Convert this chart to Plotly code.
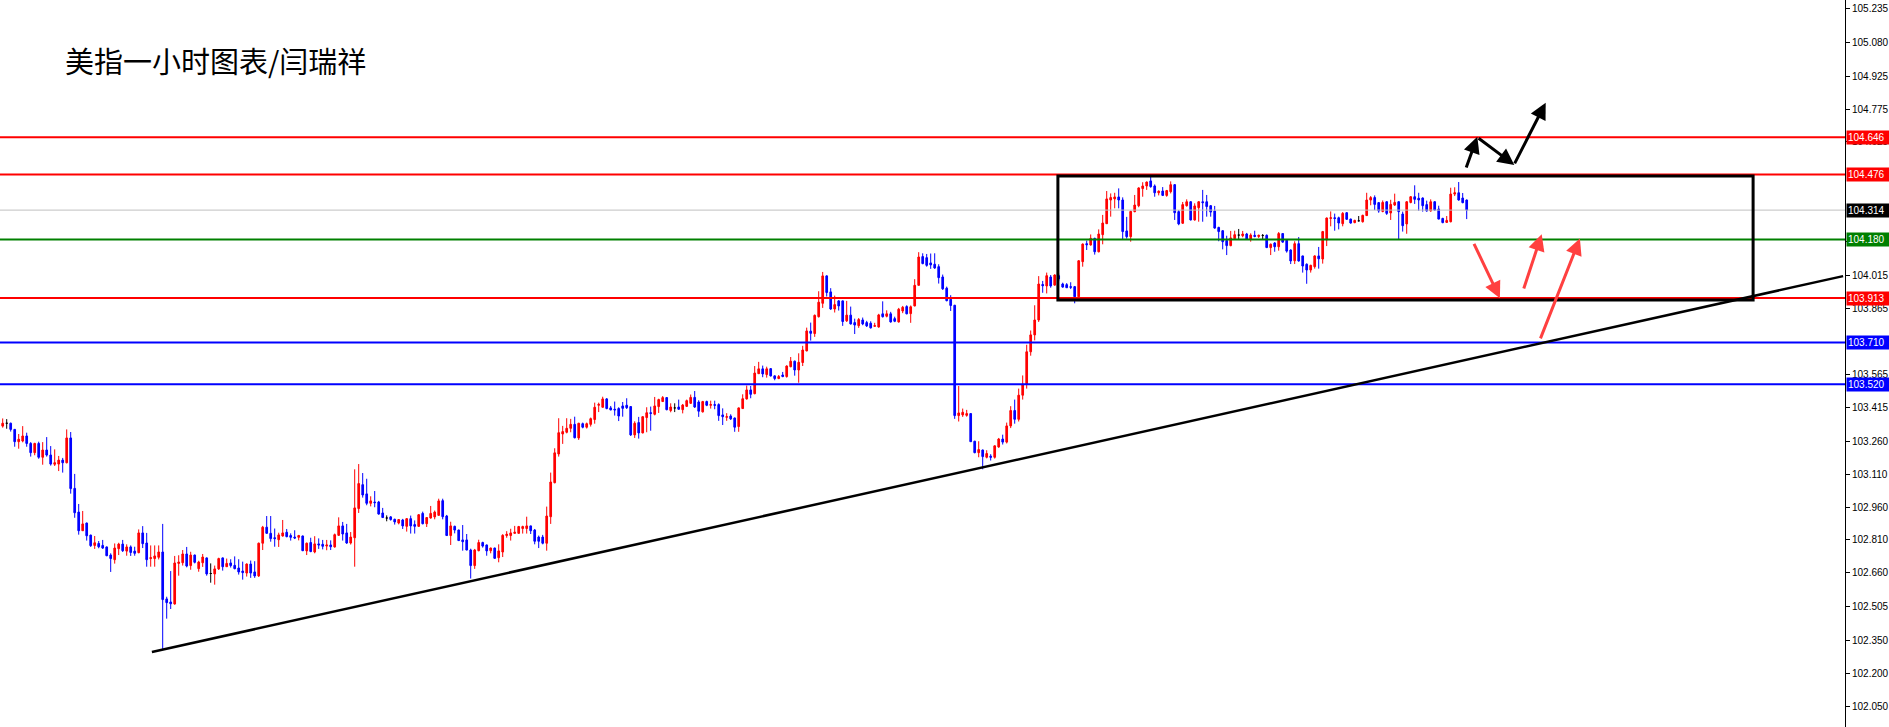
import plotly.graph_objects as go

# ---- data (USD index, 1-hour candles) ----
opens = [
103.329,103.342,103.342,103.314,103.258,103.261,103.284,103.250,103.208,103.250,
103.187,103.220,103.197,103.155,103.156,103.174,103.162,103.275,103.045,102.937,
102.852,102.887,102.832,102.785,102.794,102.785,102.778,102.741,102.720,102.770,
102.791,102.759,102.778,102.759,102.752,102.842,102.796,102.725,102.725,102.731,
102.755,102.541,102.527,102.518,102.703,102.706,102.746,102.693,102.741,102.679,
102.706,102.728,102.657,102.655,102.678,102.728,102.688,102.705,102.694,102.682,
102.668,102.659,102.700,102.664,102.646,102.795,102.868,102.840,102.820,102.811,
102.828,102.845,102.830,102.823,102.822,102.828,102.760,102.798,102.755,102.792,
102.790,102.782,102.787,102.778,102.831,102.874,102.842,102.796,102.820,102.953,
103.062,103.020,102.977,102.983,102.983,102.933,102.910,102.915,102.904,102.887,
102.901,102.872,102.907,102.880,102.872,102.931,102.884,102.910,102.915,102.922,
102.989,102.919,102.830,102.872,102.855,102.810,102.810,102.764,102.693,102.761,
102.798,102.787,102.761,102.773,102.729,102.755,102.830,102.830,102.840,102.840,
102.862,102.862,102.874,102.855,102.823,102.823,102.795,102.916,103.071,103.202,
103.293,103.301,103.319,103.337,103.275,103.340,103.324,103.337,103.359,103.424,
103.415,103.453,103.412,103.406,103.409,103.421,103.424,103.418,103.289,103.345,
103.298,103.368,103.390,103.383,103.418,103.441,103.459,103.400,103.412,103.416,
103.404,103.419,103.433,103.460,103.439,103.394,103.441,103.424,103.427,103.427,
103.380,103.369,103.375,103.366,103.327,103.409,103.453,103.494,103.477,103.568,
103.590,103.564,103.591,103.558,103.546,103.562,103.555,103.600,103.625,103.585,
103.619,103.672,103.762,103.751,103.828,103.889,104.014,103.941,103.863,103.900,
103.900,103.809,103.835,103.801,103.787,103.813,103.801,103.798,103.784,103.781,
103.841,103.830,103.841,103.819,103.804,103.854,103.874,103.842,103.877,103.971,
104.102,104.097,104.073,104.067,104.056,104.009,103.958,103.907,103.880,103.377,
103.380,103.378,103.386,103.260,103.208,103.220,103.187,103.192,103.187,103.234,
103.270,103.256,103.330,103.400,103.360,103.470,103.520,103.668,103.745,103.813,
103.975,103.968,104.009,103.972,104.015,103.977,103.974,103.965,103.965,103.919,
104.079,104.161,104.155,104.185,104.124,104.202,104.252,104.360,104.365,104.374,
104.360,104.219,104.193,104.307,104.334,104.412,104.424,104.447,104.424,104.393,
104.401,104.381,104.398,104.430,104.307,104.254,104.334,104.352,104.269,104.325,
104.352,104.352,104.334,104.310,104.235,104.220,104.175,104.152,104.184,104.200,
104.197,104.205,104.181,104.199,104.194,104.198,104.199,104.143,104.164,104.147,
104.207,104.176,104.132,104.083,104.161,104.105,104.067,104.041,104.056,104.105,
104.091,104.178,104.276,104.279,104.279,104.252,104.302,104.273,104.257,104.265,
104.261,104.289,104.360,104.371,104.348,104.308,104.352,104.301,104.337,104.352,
104.296,104.251,104.349,104.375,104.368,104.369,104.339,104.310,104.352,104.319,
104.276,104.258,104.261,104.387,104.393,104.369,104.360]

highs = [
103.364,103.361,103.345,103.316,103.293,103.329,103.299,103.256,103.253,103.258,
103.256,103.279,103.238,103.223,103.193,103.184,103.314,103.302,103.111,102.974,
102.942,102.889,102.834,102.828,102.805,102.810,102.780,102.749,102.794,102.797,
102.810,102.790,102.785,102.779,102.858,102.873,102.842,102.785,102.785,102.785,
102.883,102.551,102.668,102.737,102.740,102.764,102.778,102.756,102.743,102.715,
102.746,102.730,102.703,102.693,102.729,102.730,102.725,102.722,102.735,102.722,
102.711,102.703,102.716,102.713,102.798,102.874,102.919,102.919,102.862,102.843,
102.901,102.860,102.840,102.854,102.833,102.830,102.798,102.820,102.827,102.817,
102.810,102.810,102.808,102.839,102.913,102.892,102.883,102.846,103.132,103.156,
103.115,103.089,103.009,103.033,102.988,102.956,102.922,102.919,102.907,102.904,
102.906,102.910,102.921,102.899,102.928,102.939,102.913,102.965,102.944,102.998,
102.998,102.924,102.893,102.875,102.857,102.878,102.837,102.770,102.769,102.811,
102.802,102.789,102.775,102.775,102.790,102.836,102.850,102.861,102.874,102.874,
102.875,102.916,102.875,102.860,102.830,102.833,102.962,103.117,103.228,103.365,
103.330,103.365,103.362,103.372,103.344,103.345,103.345,103.368,103.436,103.436,
103.463,103.457,103.421,103.441,103.415,103.439,103.456,103.420,103.351,103.371,
103.374,103.415,103.418,103.462,103.454,103.466,103.460,103.433,103.433,103.450,
103.430,103.450,103.473,103.489,103.447,103.444,103.445,103.445,103.445,103.433,
103.410,103.388,103.383,103.368,103.414,103.474,103.514,103.512,103.603,103.622,
103.605,103.600,103.594,103.561,103.562,103.576,103.606,103.644,103.628,103.661,
103.695,103.778,103.801,103.838,103.944,104.032,104.017,103.958,103.924,103.904,
103.902,103.900,103.874,103.819,103.822,103.824,103.809,103.807,103.800,103.841,
103.898,103.857,103.850,103.828,103.868,103.877,103.880,103.879,103.999,104.122,
104.117,104.114,104.116,104.117,104.067,104.020,103.965,103.926,103.882,103.512,
103.409,103.403,103.388,103.262,103.260,103.222,103.219,103.201,103.241,103.275,
103.290,103.345,103.420,103.450,103.500,103.560,103.700,103.765,103.880,104.013,
103.991,104.029,104.018,104.021,104.025,103.983,103.981,103.985,103.968,104.086,
104.162,104.175,104.203,104.188,104.226,104.292,104.401,104.390,104.393,104.413,
104.372,104.283,104.311,104.383,104.418,104.441,104.444,104.466,104.431,104.404,
104.419,104.406,104.445,104.433,104.314,104.351,104.363,104.355,104.345,104.355,
104.406,104.383,104.337,104.333,104.238,104.223,104.197,104.219,104.220,104.228,
104.219,104.210,104.208,104.220,104.202,104.205,104.203,104.162,104.168,104.214,
104.208,104.179,104.135,104.172,104.191,104.106,104.071,104.065,104.108,104.146,
104.219,104.280,104.308,104.298,104.284,104.305,104.305,104.275,104.270,104.287,
104.293,104.393,104.378,104.381,104.351,104.358,104.355,104.361,104.389,104.355,
104.307,104.355,104.378,104.427,104.393,104.372,104.357,104.363,104.355,104.334,
104.279,104.287,104.416,104.418,104.442,104.392,104.362]

lows = [
103.322,103.317,103.304,103.235,103.226,103.255,103.235,103.190,103.196,103.180,
103.153,103.190,103.149,103.147,103.124,103.117,103.159,103.021,102.911,102.834,
102.851,102.807,102.778,102.769,102.772,102.769,102.736,102.664,102.702,102.741,
102.755,102.738,102.737,102.738,102.749,102.773,102.688,102.688,102.688,102.721,
102.308,102.451,102.495,102.515,102.647,102.693,102.685,102.674,102.703,102.665,
102.687,102.647,102.615,102.606,102.673,102.670,102.687,102.684,102.676,102.652,
102.629,102.643,102.637,102.637,102.641,102.764,102.839,102.802,102.779,102.778,
102.825,102.822,102.807,102.814,102.808,102.759,102.741,102.754,102.749,102.769,
102.767,102.763,102.764,102.775,102.828,102.807,102.792,102.789,102.688,102.933,
103.003,102.968,102.963,102.959,102.925,102.910,102.895,102.898,102.880,102.881,
102.860,102.848,102.839,102.839,102.869,102.881,102.869,102.907,102.904,102.921,
102.904,102.828,102.787,102.840,102.805,102.761,102.763,102.634,102.678,102.758,
102.775,102.738,102.749,102.725,102.708,102.732,102.820,102.807,102.839,102.839,
102.839,102.839,102.837,102.790,102.773,102.790,102.761,102.883,103.068,103.190,
103.248,103.296,103.301,103.273,103.266,103.319,103.318,103.327,103.340,103.393,
103.413,103.406,103.401,103.377,103.352,103.372,103.407,103.284,103.275,103.272,
103.296,103.301,103.308,103.378,103.389,103.439,103.401,103.392,103.393,103.403,
103.387,103.416,103.430,103.412,103.371,103.391,103.420,103.409,103.406,103.353,
103.334,103.353,103.357,103.303,103.303,103.407,103.450,103.456,103.474,103.567,
103.552,103.550,103.555,103.538,103.543,103.552,103.550,103.597,103.559,103.527,
103.603,103.670,103.719,103.736,103.824,103.868,103.920,103.859,103.847,103.856,
103.786,103.804,103.792,103.749,103.777,103.789,103.781,103.774,103.783,103.778,
103.824,103.825,103.801,103.803,103.801,103.844,103.839,103.800,103.875,103.970,
104.067,104.056,104.046,104.046,103.979,103.950,103.898,103.854,103.362,103.350,
103.371,103.372,103.257,103.205,103.187,103.132,103.182,103.172,103.181,103.230,
103.245,103.250,103.320,103.340,103.350,103.450,103.500,103.650,103.720,103.804,
103.937,103.934,103.960,103.969,103.990,103.960,103.959,103.954,103.889,103.912,
104.056,104.132,104.152,104.111,104.121,104.158,104.251,104.284,104.322,104.322,
104.181,104.184,104.170,104.304,104.327,104.375,104.406,104.416,104.375,104.381,
104.378,104.375,104.390,104.269,104.245,104.251,104.330,104.267,104.266,104.261,
104.261,104.284,104.284,104.229,104.172,104.135,104.109,104.149,104.181,104.181,
104.190,104.178,104.170,104.190,104.187,104.181,104.141,104.109,104.124,104.129,
104.165,104.120,104.068,104.068,104.079,104.029,103.978,104.029,104.047,104.047,
104.070,104.150,104.240,104.220,104.226,104.240,104.269,104.252,104.254,104.263,
104.257,104.287,104.336,104.314,104.302,104.304,104.292,104.269,104.333,104.181,
104.216,104.206,104.345,104.342,104.311,104.307,104.307,104.307,104.311,104.272,
104.254,104.255,104.258,104.378,104.357,104.345,104.273]

closes = [
103.342,103.342,103.314,103.258,103.269,103.284,103.250,103.208,103.250,103.187,
103.220,103.197,103.156,103.162,103.174,103.162,103.275,103.044,102.934,102.852,
102.883,102.829,102.784,102.797,102.779,102.773,102.738,102.725,102.773,102.791,
102.761,102.778,102.753,102.749,102.842,102.793,102.720,102.729,102.737,102.755,
102.538,102.524,102.519,102.705,102.709,102.746,102.691,102.741,102.708,102.709,
102.732,102.655,102.657,102.678,102.725,102.688,102.703,102.693,102.679,102.664,
102.661,102.700,102.659,102.646,102.795,102.868,102.840,102.816,102.816,102.833,
102.842,102.825,102.822,102.819,102.830,102.761,102.795,102.757,102.792,102.787,
102.781,102.787,102.779,102.834,102.874,102.837,102.796,102.823,102.956,103.067,
103.015,102.977,102.988,102.980,102.928,102.912,102.910,102.903,102.892,102.903,
102.874,102.907,102.874,102.872,102.925,102.884,102.912,102.931,102.937,102.988,
102.916,102.830,102.874,102.855,102.807,102.802,102.764,102.693,102.764,102.798,
102.782,102.760,102.773,102.726,102.760,102.831,102.836,102.842,102.845,102.871,
102.871,102.874,102.852,102.804,102.804,102.795,102.919,103.074,103.207,103.299,
103.304,103.319,103.337,103.276,103.342,103.324,103.340,103.363,103.415,103.428,
103.453,103.409,103.403,103.403,103.375,103.410,103.413,103.289,103.342,103.298,
103.372,103.390,103.387,103.421,103.450,103.459,103.404,103.416,103.412,103.406,
103.425,103.445,103.460,103.416,103.397,103.441,103.424,103.427,103.424,103.377,
103.372,103.372,103.362,103.324,103.412,103.454,103.494,103.474,103.571,103.590,
103.567,103.590,103.558,103.546,103.555,103.555,103.603,103.625,103.585,103.620,
103.676,103.763,103.752,103.834,103.894,104.014,103.938,103.863,103.883,103.877,
103.806,103.835,103.795,103.790,103.815,103.795,103.786,103.777,103.787,103.836,
103.828,103.841,103.804,103.807,103.862,103.871,103.841,103.873,103.971,104.100,
104.070,104.062,104.064,104.050,104.006,103.955,103.901,103.879,103.377,103.389,
103.392,103.386,103.258,103.208,103.222,103.190,103.204,103.187,103.239,103.270,
103.256,103.330,103.400,103.360,103.470,103.520,103.668,103.745,103.813,103.977,
103.969,104.015,103.968,104.018,104.000,103.963,103.960,103.962,103.919,104.083,
104.159,104.156,104.185,104.124,104.205,104.255,104.365,104.371,104.374,104.360,
104.216,104.193,104.308,104.337,104.415,104.424,104.442,104.421,104.393,104.400,
104.381,104.403,104.430,104.302,104.251,104.339,104.352,104.269,104.333,104.352,
104.348,104.330,104.305,104.232,104.216,104.170,104.152,104.187,104.202,104.200,
104.205,104.181,104.200,104.194,104.199,104.198,104.143,104.158,104.147,104.207,
104.168,104.127,104.082,104.161,104.082,104.059,104.041,104.062,104.105,104.092,
104.216,104.278,104.279,104.276,104.255,104.299,104.272,104.255,104.267,104.265,
104.290,104.360,104.371,104.340,104.310,104.349,104.299,104.340,104.349,104.307,
104.243,104.352,104.375,104.363,104.360,104.334,104.310,104.352,104.314,104.273,
104.257,104.267,104.387,104.393,104.360,104.348,104.314]

# right-axis price scale
ytick_vals = [105.235, 105.080, 104.925, 104.775, 104.625, 104.170, 104.015, 103.865,
              103.565, 103.415, 103.260, 103.110, 102.960, 102.810, 102.660, 102.505,
              102.350, 102.200, 102.050]

# horizontal price levels and their marker colours
level_prices = [104.646, 104.476, 104.314, 104.180, 103.913, 103.710, 103.520]
level_line_colors = ['#ff0000', '#ff0000', '#c0c0c0', '#008000', '#ff0000', '#0000ff', '#0000ff']
level_label_colors = ['#ff0000', '#ff0000', '#000000', '#008000', '#ff0000', '#0000ff', '#0000ff']

title_text = '美指一小时图表/闫瑞祥'

# ---- drawing geometry (analyst annotations) ----
box_x = (263.8, 437.6)
box_y = (103.904, 104.470)
trend_start = (37.3, 102.299)
trend_end = (460.1, 104.013)
black_arrows = [((365.75, 104.501), (368.65, 104.649)),
                ((368.6, 104.647), (377.9, 104.520)),
                ((377.8, 104.520), (385.75, 104.804))]
red_arrows = [((367.65, 104.167), (374.3, 103.912)),
              ((380.15, 103.950), (384.75, 104.204)),
              ((384.3, 103.722), (394.3, 104.185))]

n = len(closes)
assert len(opens) == n and len(highs) == n and len(lows) == n, (len(opens), len(highs), len(lows), n)
xs = list(range(n))

def subset(cond):
    idx = [i for i in xs if cond(i)]
    return dict(x=idx, open=[opens[i] for i in idx], high=[highs[i] for i in idx],
                low=[lows[i] for i in idx], close=[closes[i] for i in idx])

fig = go.Figure()
for cond, col in [(lambda i: closes[i] > opens[i], '#ff0000'),
                  (lambda i: closes[i] < opens[i], '#0000ff'),
                  (lambda i: closes[i] == opens[i], '#000000')]:
    d = subset(cond)
    fig.add_trace(go.Candlestick(
        **d,
        increasing=dict(line=dict(color=col, width=1), fillcolor=col),
        decreasing=dict(line=dict(color=col, width=1), fillcolor=col),
        whiskerwidth=0, hoverinfo='skip', showlegend=False))

shapes = []
for p, c in zip(level_prices, level_line_colors):
    shapes.append(dict(type='line', xref='paper', x0=0, x1=1, yref='y', y0=p, y1=p,
                       line=dict(color=c, width=1 if c == '#c0c0c0' else 2)))
shapes.append(dict(type='line', xref='x', yref='y', x0=trend_start[0], y0=trend_start[1],
                   x1=trend_end[0], y1=trend_end[1], line=dict(color='#000000', width=2.5)))
shapes.append(dict(type='rect', xref='x', yref='y', x0=box_x[0], x1=box_x[1],
                   y0=box_y[0], y1=box_y[1], line=dict(color='#000000', width=3),
                   fillcolor='rgba(0,0,0,0)'))

annotations = []
for p, c in zip(level_prices, level_label_colors):
    annotations.append(dict(text=f'{p:.3f}', xref='paper', x=1, xanchor='left', xshift=1,
                            yref='y', y=p, yanchor='middle', showarrow=False,
                            bgcolor=c, font=dict(color='white', size=10, family='Liberation Sans'),
                            borderpad=1, width=40, align='left'))
for arrows, col in [(black_arrows, '#000000'), (red_arrows, '#ff4040')]:
    for (sx, sy), (ex, ey) in arrows:
        annotations.append(dict(x=ex, y=ey, xref='x', yref='y', ax=sx, ay=sy,
                                axref='x', ayref='y', text='', showarrow=True,
                                arrowhead=2, arrowsize=1.1, arrowwidth=3, arrowcolor=col))
annotations.append(dict(text=title_text, xref='paper', yref='paper', x=63 / 1845, y=0.918,
                        xanchor='left', yanchor='middle', showarrow=False,
                        font=dict(family='Noto Sans CJK SC', size=29, color='#000000')))

fig.update_layout(
    width=1889, height=727,
    margin=dict(l=0, r=44, t=0, b=0),
    plot_bgcolor='white', paper_bgcolor='white',
    showlegend=False, boxgap=0.4,
    shapes=shapes, annotations=annotations,
    xaxis=dict(range=[-0.675, 460.575], visible=False, rangeslider=dict(visible=False),
               showgrid=False, zeroline=False),
    yaxis=dict(range=[101.957, 105.272], side='right', tickvals=ytick_vals,
               ticktext=[f'{v:.3f}' for v in ytick_vals], showgrid=False, zeroline=False,
               showline=True, linecolor='#000000', linewidth=1, ticks='outside',
               ticklen=4, tickcolor='#000000',
               tickfont=dict(family='Liberation Sans', size=10, color='#000000')),
)

fig.write_html('out.html', config={'displayModeBar': False},
               post_script="document.body.style.margin='0';document.body.style.overflow='hidden';")
